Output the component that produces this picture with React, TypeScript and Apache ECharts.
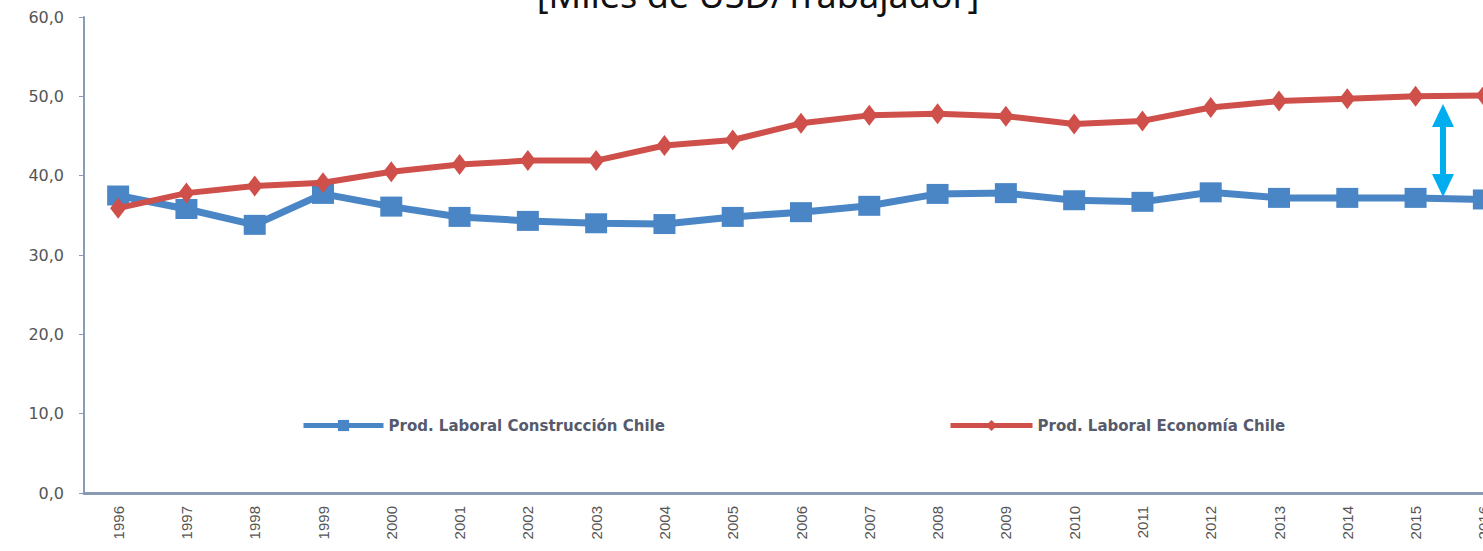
import React, { useEffect, useRef } from "react";
import * as echarts from "echarts";

const years = ["1996","1997","1998","1999","2000","2001","2002","2003","2004","2005","2006","2007","2008","2009","2010","2011","2012","2013","2014","2015","2016"];
const construccion = [37.5,35.8,33.8,37.7,36.1,34.8,34.3,34.0,33.9,34.8,35.4,36.2,37.7,37.8,36.9,36.7,37.9,37.2,37.2,37.2,37.0];
const economia = [35.9,37.8,38.7,39.1,40.5,41.4,41.9,41.9,43.8,44.5,46.6,47.6,47.8,47.5,46.5,46.9,48.6,49.4,49.7,50.0,50.1];
const nameConstruccion = "Prod. Laboral Construcción Chile";
const nameEconomia = "Prod. Laboral Economía Chile";
const titleText = "[Miles de USD/Trabajador]";

const BLUE = "#4a86c6";
const RED = "#cf4f4a";
const ARROW = "#00aeef";

export default function App() {
  const ref = useRef<HTMLDivElement>(null);
  useEffect(() => {
    if (!ref.current) return;
    const chart = echarts.init(ref.current, null, { renderer: "svg" });
    const ax = 1443;
    const top = 104;
    const bot = 197;
    const legendText = { fontFamily: "DejaVu Sans", fontWeight: "bold", fontSize: 15, color: "#565a6c" };
    chart.setOption({
      animation: false,
      backgroundColor: "#ffffff",
      grid: { left: 84, top: 17, width: 1434, height: 476, outerBoundsMode: "none", containLabel: false },
      legend: [
        {
          data: [nameConstruccion],
          left: 296,
          top: 413,
          itemWidth: 80,
          itemHeight: 14,
          itemGap: 4,
          lineStyle: { width: 5 },
          textStyle: legendText,
          selectedMode: false,
        },
        {
          data: [nameEconomia],
          left: 943,
          top: 413,
          itemWidth: 82,
          itemHeight: 14,
          itemGap: 4,
          lineStyle: { width: 5 },
          textStyle: legendText,
          selectedMode: false,
        },
      ],
      xAxis: {
        type: "category",
        data: years,
        boundaryGap: true,
        axisLine: { lineStyle: { color: "#8c9bb5", width: 3 } },
        axisTick: { show: false },
        axisLabel: { rotate: 90, margin: 13, fontFamily: "Liberation Sans", fontSize: 15, color: "#555555", interval: 0 },
      },
      yAxis: {
        type: "value",
        min: 0,
        max: 60,
        interval: 10,
        splitLine: { show: false },
        axisLine: { show: true, lineStyle: { color: "#8c9bb5", width: 2 } },
        axisTick: { show: true, length: 5, lineStyle: { color: "#8c9bb5" } },
        axisLabel: {
          margin: 20,
          fontFamily: "DejaVu Sans",
          fontSize: 16,
          color: "#555555",
          formatter: (v: number) => v.toFixed(1).replace(".", ","),
        },
      },
      series: [
        {
          name: nameConstruccion,
          type: "line",
          data: construccion,
          symbol: "rect",
          symbolSize: [22, 20],
          lineStyle: { color: BLUE, width: 7 },
          itemStyle: { color: BLUE },
          z: 2,
        },
        {
          name: nameEconomia,
          type: "line",
          data: economia,
          symbol: "diamond",
          symbolSize: [16, 21],
          lineStyle: { color: RED, width: 6 },
          itemStyle: { color: RED },
          z: 3,
        },
      ],
      graphic: [
        {
          type: "text",
          x: 758,
          y: -6,
          style: {
            text: titleText,
            font: "36px 'Noto Sans'",
            fill: "#111111",
            textAlign: "center",
            textVerticalAlign: "middle",
          },
        },
        {
          type: "line",
          shape: { x1: ax, y1: top + 18, x2: ax, y2: bot - 18 },
          style: { stroke: ARROW, lineWidth: 6 },
        },
        {
          type: "polygon",
          shape: { points: [[ax, top], [ax - 11, top + 23], [ax + 11, top + 23]] },
          style: { fill: ARROW },
        },
        {
          type: "polygon",
          shape: { points: [[ax, bot], [ax - 11, bot - 23], [ax + 11, bot - 23]] },
          style: { fill: ARROW },
        },
      ],
    });
    return () => chart.dispose();
  }, []);
  return (
    <div
      ref={ref}
      style={{ position: "fixed", left: 0, top: 0, width: 1483, height: 551, background: "#fff" }}
    />
  );
}
